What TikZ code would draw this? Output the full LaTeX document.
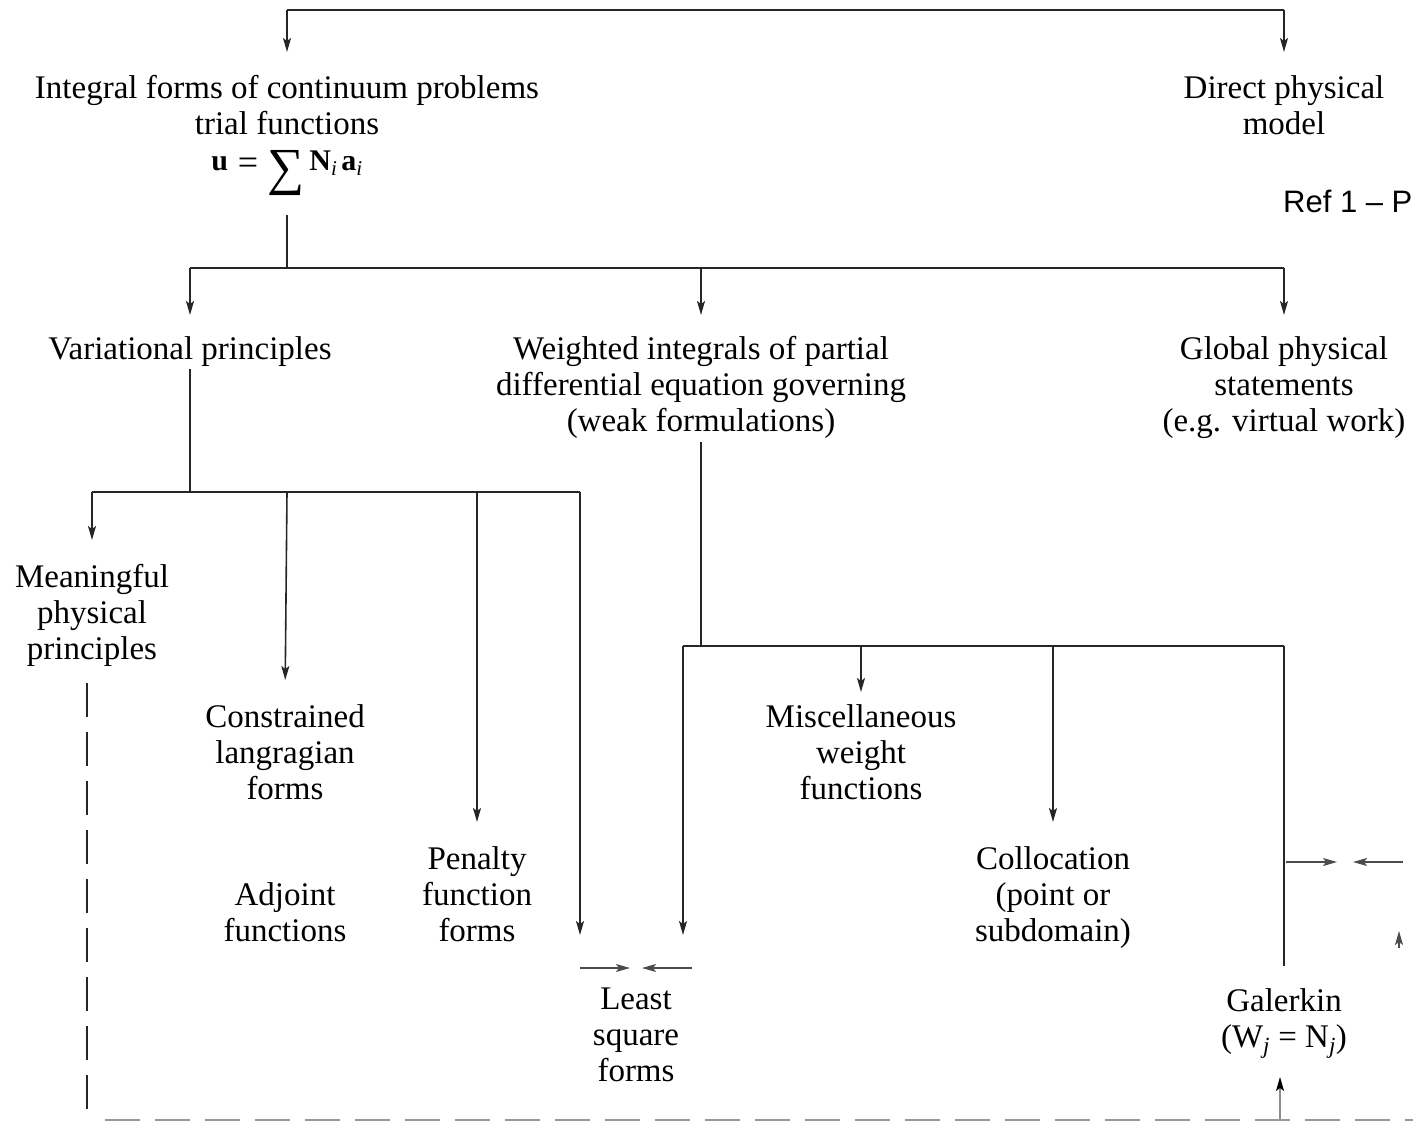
\documentclass[tikz,border=0pt]{standalone}
\usepackage{fontspec}
\setmainfont{Liberation Serif}
\newfontfamily\refsans{Liberation Sans}
\usetikzlibrary{arrows.meta}
\newcommand\bigsumsign{\raisebox{-14pt}{\fontsize{52}{52}\selectfont ∑}}
\newcommand\bigeqsign{\raisebox{-4pt}{\fontsize{36}{36}\selectfont =}}
\begin{document}
\begin{tikzpicture}[x=1pt,y=-1pt,
  txt/.style={align=center,inner sep=0pt,anchor=north,font=\fontsize{33}{36}\selectfont},
  ln/.style={line width=1.6pt,black!85},
  arr/.style={ln,-{Stealth[length=14pt,width=8pt,inset=3pt]}},
  thinarr/.style={line width=1.1pt,black!70,-{Stealth[length=14pt,width=8pt,inset=3pt]}},
  vdash/.style={line width=1.6pt,black!85,dash pattern=on 34pt off 15pt},
  hdash/.style={line width=1.6pt,black!40,dash pattern=on 35pt off 15pt},
]
\useasboundingbox (0,0) rectangle (1413,1121);

% ---------- text nodes ----------
\node[txt] (integral) at (287,75) {Integral forms of continuum problems\\trial functions\\{\fontsize{30}{36}\selectfont\textbf{u}\hspace{10pt}\bigeqsign\hspace{9pt}\bigsumsign\hspace{5pt}\textbf{N}\textsubscript{\textit{i}}\hspace{4pt}\textbf{a}\textsubscript{\textit{i}}}};
\node[txt] (direct) at (1284,75) {Direct physical\\model};
\node[anchor=base west,inner sep=0pt,font=\refsans\fontsize{31}{36}\selectfont] (ref) at (1283,212) {Ref 1 – P};

\node[txt] (var) at (190,336) {Variational principles};
\node[txt] (weighted) at (701,336) {Weighted integrals of partial\\differential equation governing\\(weak formulations)};
\node[txt] (global) at (1284,336) {Global physical\\statements\\(e.g. virtual work)};

\node[txt] (meaningful) at (92,564) {Meaningful\\physical\\principles};
\node[txt] (constrained) at (285,704) {Constrained\\langragian\\forms};
\node[txt] (adjoint) at (285,882) {Adjoint\\functions};
\node[txt] (penalty) at (477,846) {Penalty\\function\\forms};
\node[txt] (misc) at (861,704) {Miscellaneous\\weight\\functions};
\node[txt] (colloc) at (1053,846) {Collocation\\(point or\\subdomain)};
\node[txt] (least) at (636,988) {Least\\square\\forms};
\node[txt] (galerkin) at (1284,988) {Galerkin\\(W\textsubscript{\textit{j}} = N\textsubscript{\textit{j}})};

% ---------- junction coordinates ----------
\coordinate (t1) at (287,10);
\coordinate (t2) at (1284,10);
\coordinate (j2) at (287,268);
\coordinate (j2a) at (287,215);
\coordinate (l2) at (190,268);
\coordinate (m2) at (701,268);
\coordinate (r2) at (1284,268);
\coordinate (j3) at (190,492);
\coordinate (l3) at (92,492);
\coordinate (c3) at (287,492);
\coordinate (p3) at (477,492);
\coordinate (r3) at (580,492);
\coordinate (ls1) at (580,935);
\coordinate (j4) at (701,646);
\coordinate (l4) at (683,646);
\coordinate (m4) at (861,646);
\coordinate (c4) at (1053,646);
\coordinate (r4) at (1284,646);
\coordinate (ls2) at (683,935);
\coordinate (g1) at (1284,966);
\coordinate (la) at (580,968);
\coordinate (lat) at (630,968);
\coordinate (lb) at (692,968);
\coordinate (lbt) at (642,968);
\coordinate (ga) at (1286,862);
\coordinate (gat) at (1337,862);
\coordinate (gb) at (1403,862);
\coordinate (gbt) at (1353,862);
\coordinate (tp1) at (1399,948);
\coordinate (tp2) at (1399,931);
\coordinate (gup) at (1280,1120);
\coordinate (dv1) at (87,683);
\coordinate (dv2) at (87,1121);
\coordinate (dh1) at (105,1120);
\coordinate (dh2) at (1413,1120);

% ---------- level 1 ----------
\draw[ln] (t1) -- (t2);
\draw[arr,shorten >=23pt] (t1) -- (integral.north);
\draw[arr,shorten >=23pt] (t2) -- (direct.north);

% ---------- level 2 ----------
\draw[ln] (j2a) -- (j2);
\draw[ln] (l2) -- (r2);
\draw[arr,shorten >=21pt] (l2) -- (var.north);
\draw[arr,shorten >=21pt] (m2) -- (weighted.north);
\draw[arr,shorten >=21pt] (r2) -- (global.north);

% ---------- variational branch ----------
\draw[ln,shorten <=3pt] (var.south) -- (j3);
\draw[ln] (l3) -- (r3);
\draw[arr,shorten >=24pt] (l3) -- (meaningful.north);
\draw[arr,shorten >=24pt] (c3) -- (constrained.north);
\draw[arr,shorten >=24pt] (p3) -- (penalty.north);
\draw[arr] (r3) -- (ls1);

% ---------- weighted branch ----------
\draw[ln,shorten <=3pt] (weighted.south) -- (j4);
\draw[ln] (l4) -- (r4);
\draw[arr] (l4) -- (ls2);
\draw[arr,shorten >=12pt] (m4) -- (misc.north);
\draw[arr,shorten >=24pt] (c4) -- (colloc.north);
\draw[ln] (r4) -- (g1);

% ---------- small arrows ----------
\draw[thinarr] (la) -- (lat);
\draw[thinarr] (lb) -- (lbt);
\draw[thinarr] (ga) -- (gat);
\draw[thinarr] (gb) -- (gbt);
\draw[thinarr] (tp1) -- (tp2);
\draw[line width=1.1pt,black!45,-{Stealth[length=14pt,width=8pt,inset=3pt,black]},shorten >=18pt] (gup) -- (gup |- galerkin.south);

% ---------- dashed lines ----------
\draw[vdash] (dv1) -- (dv2);
\draw[hdash] (dh1) -- (dh2);
\end{tikzpicture}
\end{document}
